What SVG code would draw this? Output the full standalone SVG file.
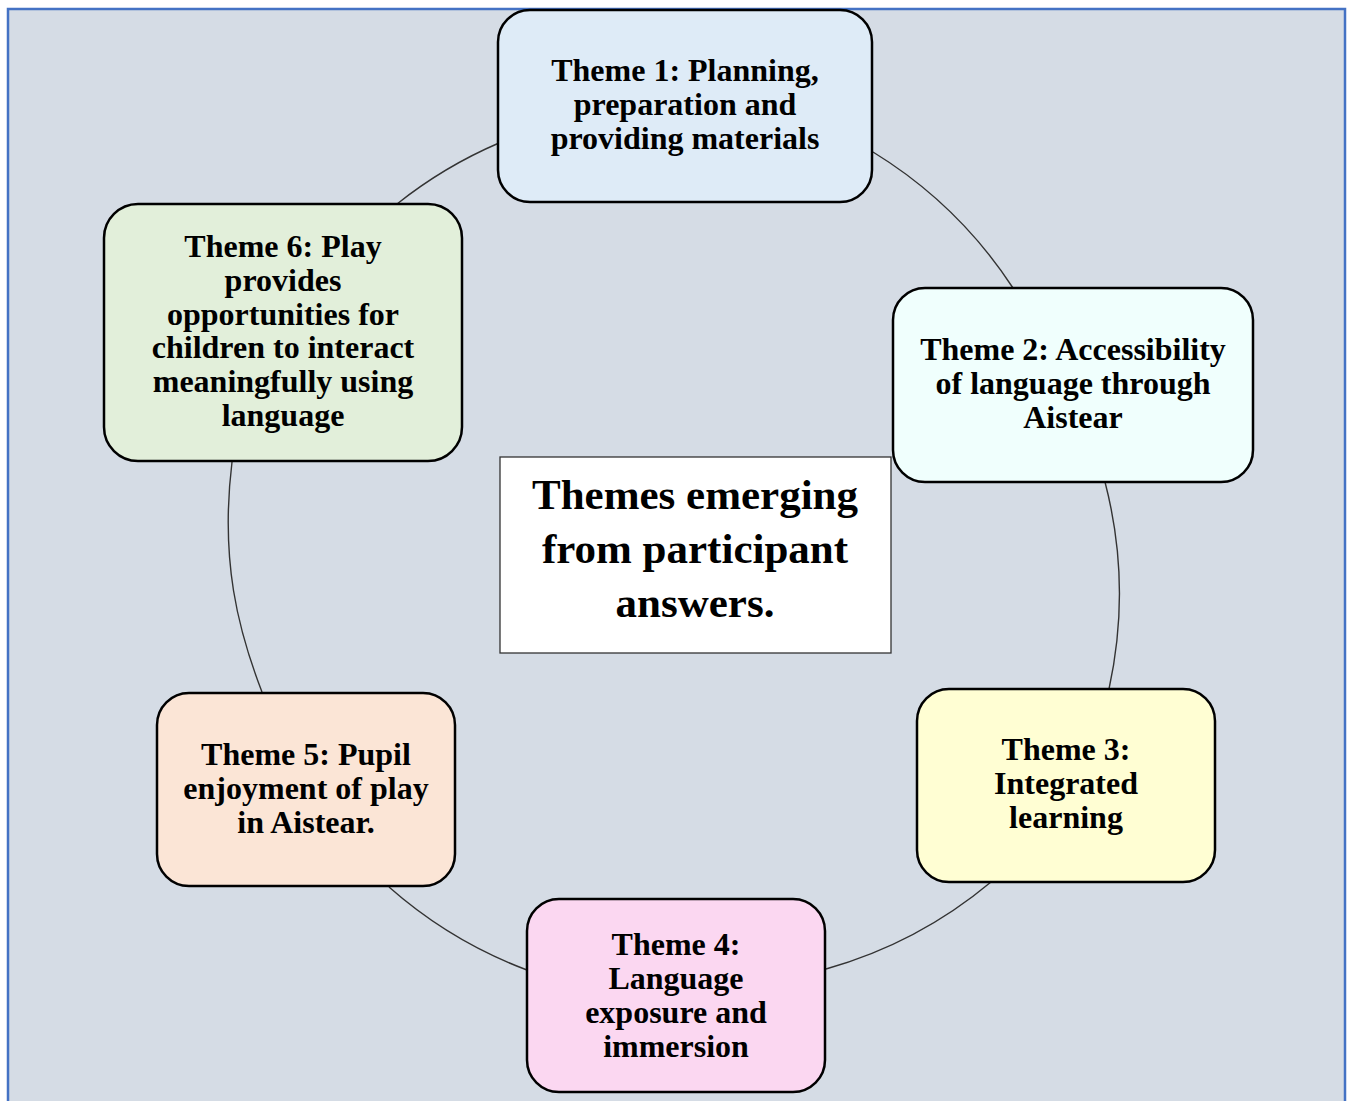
<svg xmlns="http://www.w3.org/2000/svg" width="1354" height="1101" viewBox="0 0 1354 1101">
<style>
.node{stroke:#000;stroke-width:2.5}
.t{font-family:"Liberation Serif","Times New Roman",serif;font-weight:bold;font-size:32px;fill:#000;text-anchor:middle}
.c{font-size:43px}
.arc{fill:none;stroke:#333;stroke-width:1.4}
</style>
<rect x="0" y="0" width="1354" height="1101" fill="#fff"/>
<rect id="frame" x="8" y="9" width="1337" height="1110" fill="#D5DCE5" stroke="#4472C4" stroke-width="2.5"/>
<g id="connectors">
<path class="arc" d="M873,152 A445,445 0 0 1 1013,288"/>
<path class="arc" d="M1105,482 A445,445 0 0 1 1109,689"/>
<path class="arc" d="M991,882 A445,445 0 0 1 826,969"/>
<path class="arc" d="M527,970 A445,445 0 0 1 389,887"/>
<path class="arc" d="M262,692 C238,630 220,560 232,462"/>
<path class="arc" d="M397,204 A445,445 0 0 1 499,143"/>
</g>
<g id="node1">
<rect class="node" x="498" y="10" width="374" height="192" rx="32" fill="#DEEBF7"/>
<text class="t" x="685" y="81">Theme 1: Planning,</text>
<text class="t" x="685" y="115">preparation and</text>
<text class="t" x="685" y="149">providing materials</text>
</g>
<g id="node2">
<rect class="node" x="893" y="288" width="360" height="194" rx="32" fill="#F0FFFD"/>
<text class="t" x="1073" y="360">Theme 2: Accessibility</text>
<text class="t" x="1073" y="394">of language through</text>
<text class="t" x="1073" y="428">Aistear</text>
</g>
<g id="node3">
<rect class="node" x="917" y="689" width="298" height="193" rx="32" fill="#FFFED3"/>
<text class="t" x="1066" y="760">Theme 3:</text>
<text class="t" x="1066" y="794">Integrated</text>
<text class="t" x="1066" y="828">learning</text>
</g>
<g id="node4">
<rect class="node" x="527" y="899" width="298" height="193" rx="32" fill="#FBD7F1"/>
<text class="t" x="676" y="955">Theme 4:</text>
<text class="t" x="676" y="989">Language</text>
<text class="t" x="676" y="1023">exposure and</text>
<text class="t" x="676" y="1057">immersion</text>
</g>
<g id="node5">
<rect class="node" x="157" y="693" width="298" height="193" rx="32" fill="#FBE5D6"/>
<text class="t" x="306" y="765">Theme 5: Pupil</text>
<text class="t" x="306" y="799">enjoyment of play</text>
<text class="t" x="306" y="833">in Aistear.</text>
</g>
<g id="node6">
<rect class="node" x="104" y="204" width="358" height="257" rx="34" fill="#E2EFDA"/>
<text class="t" x="283" y="257">Theme 6: Play</text>
<text class="t" x="283" y="291">provides</text>
<text class="t" x="283" y="325">opportunities for</text>
<text class="t" x="283" y="358">children to interact</text>
<text class="t" x="283" y="392">meaningfully using</text>
<text class="t" x="283" y="426">language</text>
</g>
<g id="center">
<rect x="500" y="457" width="391" height="196" fill="#fff" stroke="#333" stroke-width="1.3"/>
<text class="t c" x="695" y="509">Themes emerging</text>
<text class="t c" x="695" y="563">from participant</text>
<text class="t c" x="695" y="617">answers.</text>
</g>
</svg>
